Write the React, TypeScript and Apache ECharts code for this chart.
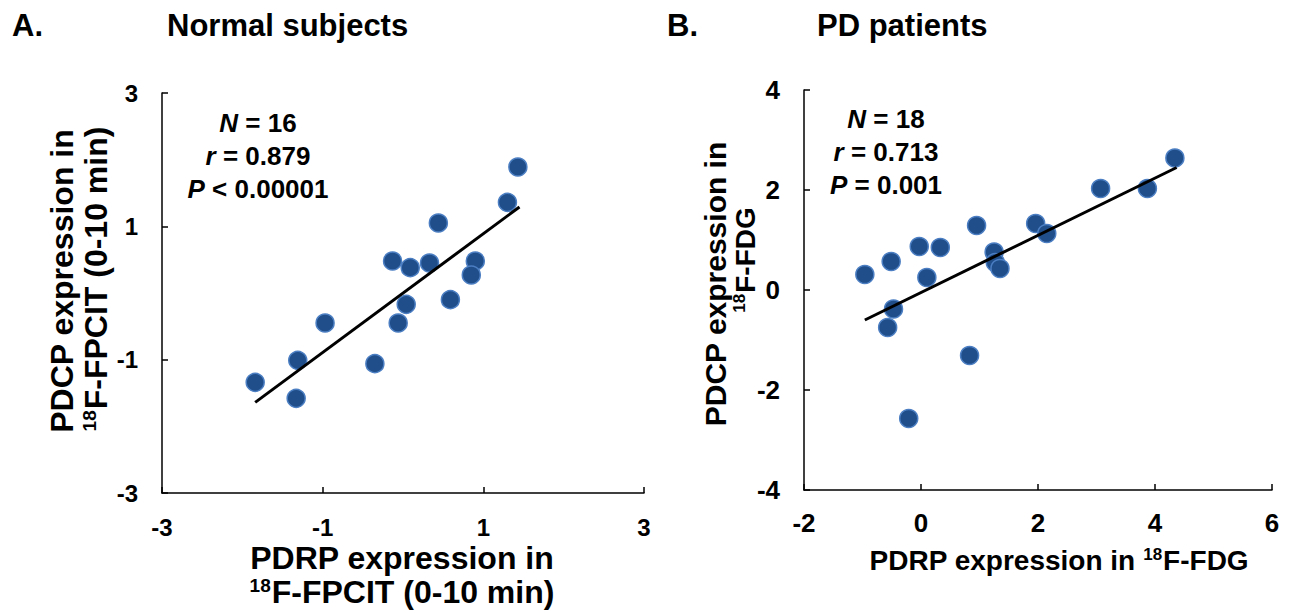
import React, { useEffect, useRef } from "react";
import * as echarts from "echarts";

const normalX = [-1.84, -1.31, -1.33, -0.97, -0.35, -0.13, 0.09, -0.06, 0.04, 0.33, 0.44, 0.59, 0.9, 0.85, 1.3, 1.43];
const normalY = [-1.34, -1.01, -1.58, -0.45, -1.06, 0.48, 0.38, -0.45, -0.17, 0.45, 1.05, -0.1, 0.48, 0.27, 1.36, 1.89];
const normalFitX = [-1.84, 1.45];
const normalFitY = [-1.64, 1.29];

const pdX = [-0.96, -0.51, -0.47, -0.57, -0.03, 0.1, 0.33, -0.21, 0.95, 0.83, 1.25, 1.27, 1.35, 1.96, 2.15, 3.07, 3.87, 4.34];
const pdY = [0.31, 0.57, -0.38, -0.75, 0.87, 0.25, 0.85, -2.57, 1.29, -1.31, 0.76, 0.55, 0.43, 1.33, 1.13, 2.03, 2.03, 2.64];
const pdFitX = [-0.96, 4.37];
const pdFitY = [-0.6, 2.45];

const normalTicks = [-3, -1, 1, 3];
const pdXTicks = [-2, 0, 2, 4, 6];
const pdYTicks = [-4, -2, 0, 2, 4];

const FONT = '"Liberation Sans", Arial, sans-serif';

function makeAxis(ticks: number[], gridIndex: number, margin: number, size: number) {
  return {
    type: "value",
    gridIndex,
    min: ticks[0],
    max: ticks[ticks.length - 1],
    interval: ticks[1] - ticks[0],
    axisLine: { show: true, onZero: false, lineStyle: { color: "#000", width: 1.5 } },
    axisTick: {
      show: true,
      inside: true,
      length: 6,
      lineStyle: { color: "#000", width: 1.5 },
    },
    axisLabel: {
      show: true,
      margin,
      color: "#000",
      fontSize: size,
      fontWeight: 700,
      fontFamily: FONT,
      showMinLabel: true,
      showMaxLabel: true,
      hideOverlap: false,
    },
    splitLine: { show: false },
  };
}

function zip(xs: number[], ys: number[]) {
  return xs.map((x, i) => [x, ys[i]]);
}

const dotStyle = {
  color: "#1F4E8A",
  borderColor: "#4B7EC2",
  borderWidth: 1.5,
  opacity: 1,
};

const base = { fontWeight: "bold", fontFamily: FONT, color: "#000" };
const rich: any = {
  n32: { ...base, fontSize: 32 },
  n30: { ...base, fontSize: 30 },
  n28: { ...base, fontSize: 28 },
  s32: { ...base, fontSize: 19, verticalAlign: "top", padding: [0, 1, 13, 0] },
  s28: { ...base, fontSize: 17, verticalAlign: "top", padding: [0, 1, 11, 0] },
  a: { ...base, fontSize: 26, lineHeight: 33 },
  ai: { ...base, fontSize: 26, fontStyle: "italic", lineHeight: 33 },
};

function txt(text: string, x: number, y: number, opts: any = {}) {
  return {
    type: "text",
    x,
    y,
    rotation: opts.rotation || 0,
    style: {
      text,
      rich,
      fill: "#000",
      font: `bold ${opts.size || 30}px ${FONT}`,
      align: opts.align || "center",
      verticalAlign: "middle",
    },
  };
}

export default function App() {
  const ref = useRef<HTMLDivElement>(null);
  useEffect(() => {
    document.body.style.margin = "0";
    const chart = echarts.init(ref.current!, null, { renderer: "svg" });
    chart.setOption({
      animation: false,
      backgroundColor: "#fff",
      grid: [
        { left: 162, top: 93, width: 482, height: 400 },
        { left: 804, top: 90, width: 468, height: 400 },
      ],
      xAxis: [makeAxis(normalTicks, 0, 22, 24), makeAxis(pdXTicks, 1, 20, 26)],
      yAxis: [makeAxis(normalTicks, 0, 24, 24), makeAxis(pdYTicks, 1, 24, 26)],
      series: [
        {
          type: "line",
          xAxisIndex: 0,
          yAxisIndex: 0,
          data: zip(normalFitX, normalFitY),
          symbol: "none",
          lineStyle: { color: "#000", width: 3 },
        },
        {
          type: "scatter",
          xAxisIndex: 0,
          yAxisIndex: 0,
          data: zip(normalX, normalY),
          symbolSize: 18,
          itemStyle: dotStyle,
        },
        {
          type: "line",
          xAxisIndex: 1,
          yAxisIndex: 1,
          data: zip(pdFitX, pdFitY),
          symbol: "none",
          lineStyle: { color: "#000", width: 3 },
        },
        {
          type: "scatter",
          xAxisIndex: 1,
          yAxisIndex: 1,
          data: zip(pdX, pdY),
          symbolSize: 18,
          itemStyle: dotStyle,
        },
      ],
      graphic: [
        txt("A.", 12, 25, { align: "left", size: 31 }),
        txt("Normal subjects", 167, 25, { align: "left", size: 31 }),
        txt("B.", 667, 25, { align: "left", size: 31 }),
        txt("PD patients", 817, 25, { align: "left", size: 31 }),
        txt("{ai|N}{a| = 16}\n{ai|r}{a| = 0.879}\n{ai|P}{a| < 0.00001}", 258, 156, { size: 26 }),
        txt("{ai|N}{a| = 18}\n{ai|r}{a| = 0.713}\n{ai|P}{a| = 0.001}", 886, 152, { size: 26 }),
        txt("{n32|PDRP expression in}", 402, 558),
        txt("{s32|18}{n32|F-FPCIT (0-10 min)}", 402, 592),
        txt("{n28|PDRP expression in }{s28|18}{n28|F-FDG}", 1059, 560),
        txt("{n32|PDCP expression in}", 62, 281, { rotation: Math.PI / 2 }),
        txt("{s32|18}{n32|F-FPCIT (0-10 min)}", 96, 279, { rotation: Math.PI / 2 }),
        txt("{n30|PDCP expression in}", 715, 284, { rotation: Math.PI / 2 }),
        txt("{s28|18}{n28|F-FDG}", 745, 260, { rotation: Math.PI / 2 }),
      ],
    });
    return () => chart.dispose();
  }, []);
  return <div ref={ref} style={{ width: 1308, height: 613, overflow: "hidden" }} />;
}
